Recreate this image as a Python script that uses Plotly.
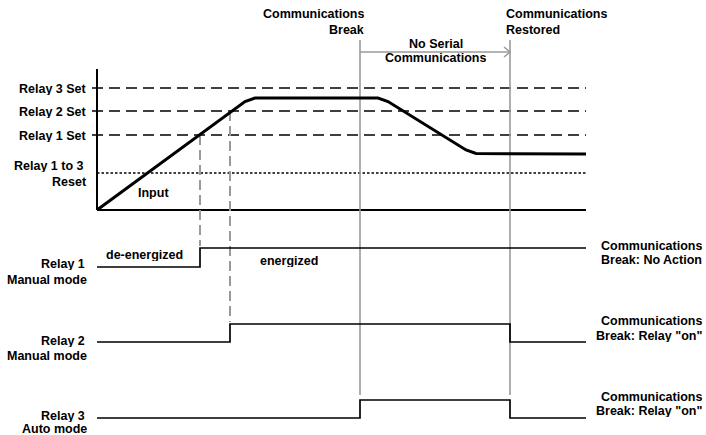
import plotly.graph_objects as go

# input signal (time, level) breakpoints
input_t = [97, 245, 255, 378, 388, 466, 476, 586]
input_v = [210, 101.5, 98, 98, 101.5, 150, 153.5, 154]

# relay outputs
relay1_t = [97, 200, 200, 586]
relay1_v = [267, 267, 248, 248]
relay2_t = [97, 230, 230, 510, 510, 586]
relay2_v = [342, 342, 324, 324, 342, 342]
relay3_t = [97, 360, 360, 510, 510, 586]
relay3_v = [418, 418, 400, 400, 418, 418]

# set points and reset level
set_labels = ["Relay 3 Set", "Relay 2 Set", "Relay 1 Set"]
set_levels = [88, 111, 135]
reset_level = 173

# events
comm_break_t = 360
comm_restore_t = 510
relay1_trip_t = 200
relay2_trip_t = 230

axis_t0, axis_t1 = 97, 586
axis_top, axis_base = 69, 210

FONT = dict(family="Liberation Sans, Arial, sans-serif", size=12.5, color="black", weight="bold")
GREY = "#9a9a9a"

fig = go.Figure()


def add_line(x, y, color="black", width=1.7, dash="solid"):
    fig.add_trace(go.Scatter(x=x, y=y, mode="lines", hoverinfo="skip", showlegend=False,
                             line=dict(color=color, width=width, dash=dash)))


# set point lines and reset
for lvl in set_levels:
    add_line([axis_t0 - 5, axis_t1], [lvl, lvl], width=1.6, dash="11px,6px")
add_line([axis_t0, axis_t1], [reset_level, reset_level], width=1.5, dash="2.5px,2px")

# axes of the input panel
add_line([axis_t0, axis_t0], [axis_top, axis_base], width=2)
add_line([axis_t0, axis_t1], [axis_base, axis_base], width=2)

# trip markers
add_line([relay1_trip_t, relay1_trip_t], [set_levels[2], 246], color=GREY, width=2, dash="10px,5px")
add_line([relay2_trip_t, relay2_trip_t], [set_levels[1], 322], color=GREY, width=2, dash="10px,5px")

# communications break / restore
for t in [comm_break_t, comm_restore_t]:
    add_line([t, t], [40, 395], color=GREY, width=1.6)
add_line([comm_break_t, comm_restore_t], [52, 52], color=GREY, width=1.5)
add_line([comm_restore_t - 6, comm_restore_t, comm_restore_t - 6], [47, 52, 57], color=GREY, width=1.5)

# signals
add_line(input_t, input_v, width=3)
add_line(relay1_t, relay1_v)
add_line(relay2_t, relay2_v)
add_line(relay3_t, relay3_v)


def label(x, y, text, xanchor="right"):
    fig.add_annotation(x=x, y=y, text=text, showarrow=False, xanchor=xanchor,
                       yanchor="middle", font=FONT, align=xanchor if xanchor != "center" else "center",
                       borderpad=0, height=13)


for name, lvl in zip(set_labels, set_levels):
    label(88, lvl, name)
label(85, 165, "Relay 1 to 3")
label(88, 181, "Reset")
label(86, 263, "Relay 1")
label(88, 279, "Manual mode")
label(86, 340, "Relay 2")
label(88, 355, "Manual mode")
label(86, 415, "Relay 3")
label(88, 428.5, "Auto mode")

label(153, 192, "Input", "center")
label(144, 254, "de-energized", "center")
label(289, 260, "energized", "center")

label(365, 13, "Communications")
label(365, 29, "Break")
label(505, 13, "Communications", "left")
label(505, 29, "Restored", "left")
label(435.5, 43, "No Serial", "center")
label(435, 57, "Communications", "center")

for yc, txt in [(245, "Communications"), (259, "Break: No Action"),
                (320, "Communications"), (335, 'Break: Relay "on"'),
                (396, "Communications"), (410, 'Break: Relay "on"')]:
    label(703, yc, txt)

fig.update_layout(
    width=706, height=435,
    margin=dict(l=0, r=0, t=0, b=0),
    paper_bgcolor="white", plot_bgcolor="white",
    xaxis=dict(range=[0, 706], visible=False, fixedrange=True),
    yaxis=dict(range=[435, 0], visible=False, fixedrange=True),
)

# drop the default 8px page margin so the figure fills the window
fig.write_html("out.html", config={"displayModeBar": False},
               post_script="document.body.style.margin='0';document.body.style.overflow='hidden';")
